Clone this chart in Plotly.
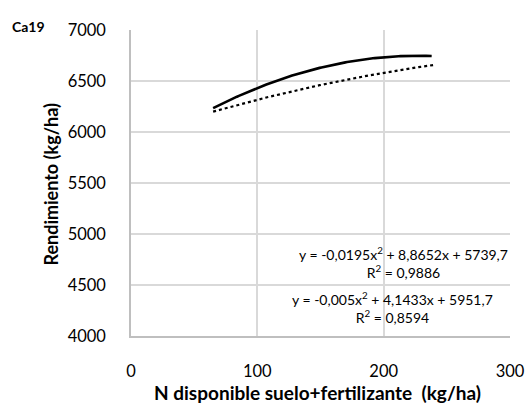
import numpy as np
import plotly.graph_objects as go

# Quadratic response curves: coefficients (a, b, c) for y = a*x^2 + b*x + c
coef_solid = [-0.0195, 8.8652, 5739.7]
coef_dotted = [-0.005, 4.1433, 5951.7]
r2_solid = 0.9886
r2_dotted = 0.8594

# N range covered by each curve (kg/ha)
x_range_solid = [65, 238]
x_range_dotted = [65, 241]

x_ticks = [0, 100, 200, 300]
y_ticks = [4000, 4500, 5000, 5500, 6000, 6500, 7000]


def fmt(v):
    return f"{v}".replace(".", ",")


def curve(coefs, xr):
    x = np.linspace(xr[0], xr[1], 120)
    return x, np.polyval(coefs, x)


xs, ys = curve(coef_solid, x_range_solid)
xd, yd = curve(coef_dotted, x_range_dotted)

fig = go.Figure()
fig.add_trace(go.Scatter(x=xs, y=ys, mode="lines",
                         line=dict(color="black", width=2.6), showlegend=False))
fig.add_trace(go.Scatter(x=xd, y=yd, mode="lines",
                         line=dict(color="black", width=2.2, dash="dot"), showlegend=False))

font = "Lato, 'Open Sans', sans-serif"


def eq_text(c, r2):
    return (f"y = {fmt(c[0])}x<sup>2</sup> + {fmt(c[1])}x + {fmt(c[2])}<br>"
            f"R<sup>2</sup> = {fmt(r2)}")


eq_font = dict(family=font, size=14, color="black")
fig.add_annotation(xref="x", yref="y", x=216, y=4716, yanchor="middle",
                   text=eq_text(coef_solid, r2_solid), showarrow=False,
                   font=eq_font, align="center")
fig.add_annotation(xref="x", yref="y", x=207, y=4279, yanchor="middle",
                   text=eq_text(coef_dotted, r2_dotted), showarrow=False,
                   font=eq_font, align="center")

# Panel label and axis titles
fig.add_annotation(xref="paper", yref="paper", x=-0.319, y=1.01, xanchor="left",
                   yanchor="middle", text="<b>Ca19</b>", showarrow=False,
                   font=dict(family=font, size=14, color="black"))
fig.add_annotation(xref="paper", yref="paper", x=0.493, y=-0.186, xanchor="center",
                   yanchor="middle", text="<b>N disponible suelo+fertilizante  (kg/ha)</b>",
                   showarrow=False, font=dict(family=font, size=19, color="black"))
fig.add_annotation(xref="paper", yref="paper", x=-0.212, y=0.497, xanchor="center",
                   yanchor="middle", textangle=-90, text="<b>Rendimiento (kg/ha)</b>",
                   showarrow=False, font=dict(family=font, size=18, color="black"))

fig.update_layout(
    width=528, height=409,
    margin=dict(l=131, r=18, t=30, b=73, autoexpand=False),
    paper_bgcolor="white", plot_bgcolor="white",
    font=dict(family=font, color="black"),
    xaxis=dict(range=[0, 300], tickvals=x_ticks, showgrid=True, gridcolor="#d9d9d9",
               gridwidth=1.5, showline=True, linecolor="#bfbfbf", linewidth=1.5,
               zeroline=False, tickfont=dict(size=16.5), ticklabelstandoff=19,
               automargin=False),
    yaxis=dict(range=[4000, 7000], tickvals=y_ticks, showgrid=True, gridcolor="#d9d9d9",
               gridwidth=1.5, showline=True, linecolor="#bfbfbf", linewidth=1.5,
               zeroline=False, tickfont=dict(size=16.5), ticklabelstandoff=20,
               automargin=False),
)

fig.write_html("out.html")
